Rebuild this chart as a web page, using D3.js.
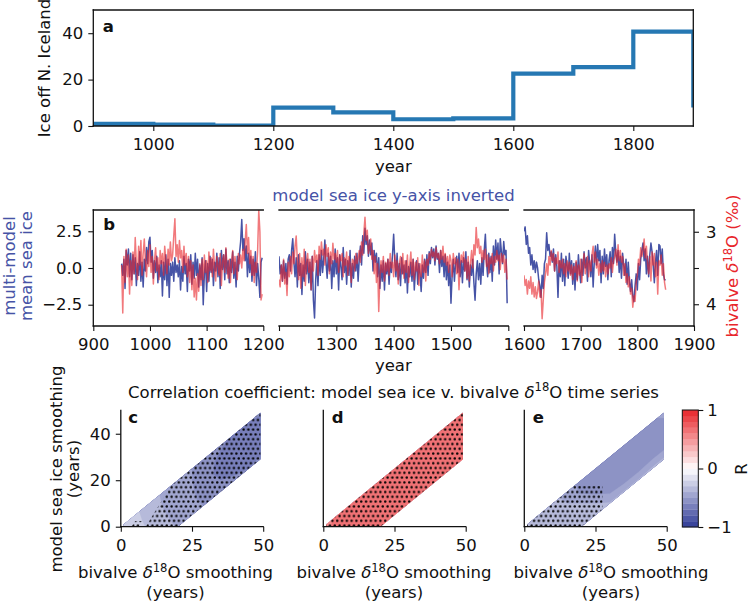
<!DOCTYPE html>
<html><head><meta charset="utf-8">
<script src="https://cdn.jsdelivr.net/npm/d3@7"></script>
<style>
body{margin:0;background:#fff;}
svg{display:block;font-family:"DejaVu Sans",sans-serif;}
</style></head><body>
<svg id="chart" width="750" height="603"></svg>
<script>
// ================= DATA =================
// Panel a: ice off N. Iceland (century bins)
const iceEdges  = [900,1000,1100,1200,1300,1400,1500,1600,1700,1800,1900];
const iceValues = [0.9,0.6,0.2,7.9,5.9,2.9,3.3,22.6,25.4,40.7,8.0];
const aTicksX = [1000,1200,1400,1600,1800];
const aTicksY = [0,20,40];

// Panel b: annual series sampled every 2 years from 950
const seriesStart = 950, seriesStep = 2;
const seaIce = [
0.3,-0.5,0.6,-1.4,1.2, 0.2,1.3,-0.6,1.0,-0.8, 0.9,-0.4,0.7,-1.2,0.3, -0.5,1.1,-0.9,0.4,-1.3, 0.6,-0.2,1.4,0.3,1.8,
2.1,0.4,1.2,-0.7,0.5, -0.3,0.8,-1.0,0.2,-0.6, 0.5,-1.9,0.4,-0.8,0.9, -1.2,0.6,-2.0,0.3,-0.5, 0.4,-0.9,0.7,-0.3,0.2,
-0.6,0.5,-1.5,0.1,-0.9, 0.8,-0.4,0.3,-1.6,0.6, -0.2,0.9,-1.1,0.4,-0.7, 1.0,-0.5,0.6,-1.3,0.2, -0.8,0.7,-2.5,-0.4,0.5,
-1.6,0.3,-0.9,0.8,-0.3, 0.6,-1.2,0.4,-0.2,1.0, -0.6,0.7,-1.4,1.2,-0.1, 0.9,-0.8,1.3,-0.4,0.5, -1.0,0.6,-0.3,1.1,-0.7,
0.4,-1.3,0.8,-0.2,1.0, 1.8,3.3,1.2,2.0,0.5, 1.5,-0.6,1.0,-0.3,0.8, -0.9,0.6,-0.5,1.1,-1.2, 0.3,-0.7,-2.0,0.4,0.7,
0.8,-0.4,0.2,-0.9,0.5, -0.7,0.3,-1.1,0.6,0.9, -0.2,1.2,2.0,0.4,-0.6, 0.7,-1.3,0.9,-0.5,0.3, -1.8,0.2,-0.9,1.1,-0.4,
0.6,-1.0,0.4,-1.5,0.8, -2.2,-3.4,-0.8,0.5,-1.2, 0.9,-0.5,1.2,-0.3,0.6, 1.9,0.4,-0.7,1.0,-0.2, 0.8,-1.4,0.5,-0.6,1.3,
-0.4,0.7,-1.5,0.9,0.1, -0.8,1.4,-0.3,0.6,-1.1, 0.5,-0.5,1.2,-1.3,0.3, -0.7,0.8,-0.2,1.0,-0.9, 0.6,1.5,0.2,2.2,1.0,
2.7,1.6,2.2,0.8,1.9, 0.9,1.7,-0.2,1.2,0.4, 1.0,-0.6,0.7,-1.4,0.2, -0.9,0.5,-1.5,0.3,-0.4, 0.6,-1.1,0.4,-0.3,0.9,
2.3,0.5,-0.6,1.0,-0.8, 0.3,-1.2,0.7,-0.4,0.2, -1.0,0.5,-1.7,0.1,-0.6, 0.4,-0.9,0.6,-1.5,-0.2, 0.5,-1.1,0.3,-0.4,-1.6,
0.2,-0.7,0.6,-0.3,0.9, -0.5,1.1,0.3,1.4,0.7, 1.3,0.2,1.5,0.6,1.0, -0.3,1.2,0.1,0.8,-0.6, 0.9,-0.8,0.4,-1.2,0.2,
-2.4,-0.5,0.6,-0.9,0.3, 0.8,-0.3,1.0,-0.6,0.5, -1.0,0.7,-0.2,1.1,-0.8, 0.4,-1.3,0.2,-0.5,0.6, -1.0,-2.2,-0.4,0.5,-0.8,
0.3,-1.1,0.7,-0.5,1.2, 2.3,0.4,-0.6,1.0,-0.3, 0.8,-0.9,1.5,0.2,1.9, 0.6,1.7,-0.4,2.0,1.1, 0.3,1.8,0.9,1.2,-2.4,
2.5,2.8,1.6,2.2,1.0, 1.4,0.2,0.9,-0.1,0.5, -0.3,0.4,0.0,-0.8,-1.2, -2.0,-0.5,-1.4,0.3,0.6, 2.4,1.2,1.6,0.8,1.1,
0.4,1.3,-0.2,0.9,0.1, -2.0,0.5,-0.6,1.0,-0.9, 0.6,-1.2,0.8,0.2,-0.7, 1.0,-0.4,0.5,-1.1,0.3, -1.5,0.4,-0.8,0.9,-0.2,
-1.0,0.6,-0.5,1.1,0.0, 0.7,-0.9,1.2,0.3,-0.6, 0.9,-1.3,0.4,1.5,0.2, 1.6,0.5,1.2,-1.0,0.8, -0.4,1.3,0.1,0.9,-0.8,
0.5,1.1,-0.6,1.4,0.3, 2.3,1.0,0.4,1.2,-0.3, 0.8,-0.7,1.0,0.2,-0.5, 0.6,-1.1,0.4,-0.9,-1.6, -0.8,-1.9,-2.3,-1.2,-0.4,
-1.5,0.3,-0.8,0.6,1.2, 1.7,0.5,1.3,-0.4,0.8, -0.6,0.9,1.7,1.1,0.2, -1.0,0.4,1.2,-0.5,1.6, 1.5,0.3,1.3,-0.4,-0.8,
-0.8];
const bivalve = [
3.46,4.12,3.34,3.70,3.24, 3.62,3.32,3.86,3.40,3.74, 3.28,3.58,3.08,3.44,3.66, 3.20,3.46,3.12,3.60,3.30, 3.10,3.42,3.62,3.26,3.48,
3.18,3.56,3.34,3.72,3.40, 3.22,3.54,3.36,3.66,3.26, 3.44,3.30,3.60,3.20,3.38, 3.58,3.24,3.46,3.14,3.40, 3.32,3.06,2.82,3.34,3.18,
3.42,3.12,3.36,3.26,3.56, 3.20,3.46,3.30,3.62,3.34, 3.70,3.40,3.80,3.46,3.90, 3.64,3.94,3.58,3.82,3.44, 3.74,3.38,3.66,3.32,3.56,
3.40,3.70,3.28,3.54,3.36, 3.62,3.24,3.50,3.68,3.34, 3.46,3.60,3.30,3.74,3.42, 3.32,3.56,3.22,3.48,3.64, 3.38,3.70,3.40,3.26,3.58,
3.34,3.48,3.66,3.30,3.44, 3.32,3.50,3.24,3.40,3.14, 2.90,3.30,3.08,3.44,3.26, 3.60,3.34,3.70,3.42,3.56, 3.26,2.70,3.00,3.94,3.86,
3.66,3.76,3.46,3.68,3.38, 3.72,3.56,3.88,3.42,3.62, 3.34,3.58,3.28,3.44,3.20, 3.06,3.40,3.66,3.30,3.78, 3.36,3.62,3.24,3.74,3.42,
3.30,3.56,3.38,3.80,3.34, 3.54,3.26,3.42,3.32,3.60, 3.20,3.38,3.14,3.32,3.24, 3.46,3.18,3.34,3.22,3.58, 3.28,3.44,3.16,3.38,3.30,
3.42,3.26,3.56,3.32,3.40, 3.30,3.62,3.36,3.46,3.28, 3.60,3.34,3.44,3.70,3.38, 3.40,3.54,3.30,3.44,3.36, 3.26,3.42,3.14,3.32,3.02,
2.80,3.12,2.98,3.30,3.20, 3.10,3.38,3.26,3.58,3.34, 3.70,3.44,4.10,3.62,3.40, 3.56,3.34,3.68,3.42,3.54, 3.38,3.60,3.30,3.50,3.42,
3.62,3.32,3.54,3.40,3.72, 3.44,3.34,3.58,3.30,3.64, 3.40,3.56,3.32,3.70,3.46, 3.28,3.60,3.38,3.66,3.42, 3.54,3.36,3.74,3.44,3.62,
3.32,3.56,3.40,3.68,3.38, 3.46,3.30,3.38,3.24,3.34, 3.28,3.40,3.22,3.36,3.30, 3.44,3.26,3.38,3.20,3.42, 3.30,3.46,3.34,3.56,3.32,
3.40,3.62,3.30,3.44,3.36, 3.58,3.38,3.80,3.46,3.32, 3.42,3.28,3.54,3.38,3.64, 3.34,3.68,3.44,3.26,3.50, 3.18,3.32,2.94,3.22,3.10,
3.30,3.20,3.42,3.26,3.38, 3.24,3.48,3.32,3.58,3.36, 3.44,3.30,3.54,3.34,3.42, 3.26,3.40,3.32,3.52,3.30, 3.42,3.32,3.56,3.38,3.66,
3.60,3.74,3.66,3.86,3.68, 3.78,3.62,3.86,3.70,3.90, 3.76,3.92,3.82,3.68,3.90, 3.80,4.20,3.94,3.70,3.58, 3.44,3.60,3.34,3.46,3.26,
3.40,3.30,3.54,3.36,3.44, 3.28,3.56,3.40,3.50,3.38, 3.58,3.44,3.62,3.40,3.54, 3.42,3.60,3.46,3.66,3.48, 3.56,3.40,3.68,3.46,3.60,
3.38,3.70,3.44,3.30,3.58, 3.46,3.34,3.62,3.40,3.54, 3.32,3.20,3.42,3.28,3.50, 3.38,3.60,3.44,3.56,3.40, 3.54,3.42,3.62,3.46,3.58,
3.44,3.50,3.36,3.56,3.40, 3.34,3.24,3.46,3.18,3.40, 3.26,3.42,3.34,3.60,3.44, 3.70,3.58,3.76,3.62,3.86, 3.78,4.04,3.88,3.96,3.70,
3.60,3.38,3.46,3.22,3.34, 3.26,3.10,3.36,3.20,3.44, 3.58,3.34,3.68,3.28,3.46, 3.30,3.62,3.42,3.86,3.40, 3.46,3.32,3.60,3.44,3.70,
3.80];
const segments = [[900,1200],[1200,1600],[1600,1900]];
const segTicks = [[900,1000,1100,1200],[1200,1300,1400,1500,1600],[1600,1700,1800,1900]];
const segLabels = [[900,1000,1100,1200],[1300,1400,1500],[1600,1700,1800,1900]];
const bTicksLeft = [-2.5,0,2.5];
const bTicksRight = [3,3.5,4];
const bLabelsRight = [3,4];

// Panels c-e: correlation on grid (bivalve smoothing u, lag = bivalve - model smoothing)
const uGrid = [0,5,10,15,20,25,30,35,40,45,50];
const lagGrid = [0,5,10,15,20];
const bandX = [1,20,49,49,1];
const bandY = [0,0,29,49,1];
const corrC = [
-0.22,-0.28,-0.35,-0.42,-0.46,-0.50,-0.54,-0.58,-0.62,-0.60,-0.58,
-0.22,-0.27,-0.33,-0.41,-0.46,-0.50,-0.56,-0.63,-0.68,-0.68,-0.66,
-0.22,-0.26,-0.31,-0.39,-0.45,-0.49,-0.56,-0.64,-0.68,-0.69,-0.67,
-0.22,-0.25,-0.29,-0.36,-0.44,-0.48,-0.54,-0.60,-0.63,-0.64,-0.62,
-0.22,-0.24,-0.27,-0.33,-0.41,-0.46,-0.51,-0.56,-0.58,-0.60,-0.59];
const sigC = [
0,0,0,0,1,1,1,1,1,1,1,
0,1,0,1,1,1,1,1,1,1,1,
0,0,1,1,1,1,1,1,1,1,1,
0,0,0,1,1,1,1,1,1,1,1,
0,0,0,0,1,1,1,1,1,1,1];
const corrD = [
0.56,0.62,0.65,0.66,0.66,0.66,0.65,0.65,0.64,0.64,0.64,
0.58,0.62,0.65,0.66,0.66,0.66,0.66,0.65,0.65,0.64,0.64,
0.58,0.62,0.64,0.65,0.66,0.66,0.66,0.65,0.65,0.65,0.64,
0.58,0.61,0.63,0.65,0.65,0.66,0.66,0.66,0.65,0.65,0.65,
0.58,0.60,0.62,0.64,0.65,0.65,0.66,0.66,0.65,0.65,0.65];
const sigD = [
1,1,1,1,1,1,1,1,1,1,1,
1,1,1,1,1,1,1,1,1,1,1,
1,1,1,1,1,1,1,1,1,1,1,
1,1,1,1,1,1,1,1,1,1,1,
1,1,1,1,1,1,1,1,1,1,1];
const corrE = [
-0.36,-0.37,-0.38,-0.42,-0.55,-0.57,-0.58,-0.58,-0.57,-0.56,-0.40,
-0.36,-0.37,-0.38,-0.40,-0.52,-0.56,-0.58,-0.58,-0.58,-0.57,-0.55,
-0.36,-0.37,-0.38,-0.39,-0.40,-0.53,-0.56,-0.57,-0.57,-0.56,-0.55,
-0.36,-0.36,-0.37,-0.38,-0.39,-0.40,-0.52,-0.55,-0.55,-0.53,-0.53,
-0.35,-0.36,-0.36,-0.37,-0.38,-0.38,-0.39,-0.39,-0.39,-0.38,-0.38];
const sigE = [
1,1,1,1,0,0,0,0,0,0,0,
1,1,1,1,1,0,0,0,0,0,0,
1,1,1,1,1,1,0,0,0,0,0,
1,1,1,1,1,1,0,0,0,0,0,
1,1,1,1,1,1,0,0,0,0,0];
const levels = [-1,-0.9,-0.8,-0.7,-0.6,-0.5,-0.4,-0.3,-0.2,-0.1,0,0.1,0.2,0.3,0.4,0.5,0.6,0.7,0.8,0.9,1];
const cTicksX = [0,25,50];
const cTicksY = [0,20,40];
const cbTicks = [-1,0,1];

// ================= DRAWING =================
const svg = d3.select("#chart");
const FS = 16.5;
const INK = "#111";
const BLUE = "#4653a6";
const RED = "#e8262b";
const defs = svg.append("defs");

function styleAxis(g){
  g.select(".domain").remove();
  g.selectAll("text").attr("font-size",FS).attr("font-family","DejaVu Sans").attr("fill",INK);
  g.selectAll("line").attr("stroke",INK).attr("stroke-width",1.1);
}
function spine(x1,y1,x2,y2){
  svg.append("line").attr("x1",x1).attr("y1",y1).attr("x2",x2).attr("y2",y2)
    .attr("stroke",INK).attr("stroke-width",1.3).attr("stroke-linecap","square");
}
function text(x,y,str,opts={}){
  const t = svg.append("text").attr("x",x).attr("y",y).attr("font-size",opts.fs||FS)
    .attr("fill",opts.fill||INK).attr("text-anchor",opts.anchor||"middle");
  if(opts.weight) t.attr("font-weight",opts.weight);
  if(opts.rotate) t.attr("transform",`rotate(${opts.rotate},${x},${y})`);
  t.text(str);
  return t;
}
function d18Text(t, prefix, suffix){
  t.text(null);
  t.append("tspan").text(prefix);
  t.append("tspan").attr("font-style","italic").text("δ");
  t.append("tspan").attr("font-size","70%").attr("dy",-6.5).text("18");
  t.append("tspan").attr("dy",6.5).text("O");
  t.append("tspan").text(suffix);
}

// ---------- Panel a ----------
const ax = d3.scaleLinear().domain([900,1900]).range([93.3,693.3]);
const ay = d3.scaleLinear().domain([0,50]).range([126,10]);
defs.append("clipPath").attr("id","clipA").append("rect")
  .attr("x",ax.range()[0]).attr("y",ay.range()[1]).attr("width",ax.range()[1]-ax.range()[0]).attr("height",ay.range()[0]-ay.range()[1]);
const aLine = d3.line().x(d=>ax(d[0])).y(d=>ay(d[1])).curve(d3.curveStepAfter);
svg.append("path").datum(iceEdges.map((e,i)=>[e,iceValues[i]]))
  .attr("d",aLine).attr("fill","none").attr("stroke","#2678b3").attr("stroke-width",4.2)
  .attr("clip-path","url(#clipA)");
styleAxis(svg.append("g").attr("transform","translate(0,126)")
  .call(d3.axisBottom(ax).tickValues(aTicksX).tickFormat(d3.format("d")).tickSize(5).tickPadding(7.5)));
styleAxis(svg.append("g").attr("transform","translate(93.3,0)")
  .call(d3.axisLeft(ay).tickValues(aTicksY).tickSize(5).tickPadding(5)));
spine(93.3,10,693.3,10); spine(93.3,126,693.3,126); spine(93.3,10,93.3,126); spine(693.3,10,693.3,126);
text(102.7,31.7,"a",{anchor:"start",weight:"bold"});
text(393.3,171.5,"year");
text(50,68,"Ice off N. Iceland",{rotate:-90});

// ---------- Panel b ----------
const segPx = [[93.3,263.3],[279,508.3],[524,694]];
const bTop = 210, bBot = 326;
const byL = d3.scaleLinear().domain([-3.95,3.95]).range([bBot,bTop]);
const byR = d3.scaleLinear().domain([2.7,4.3]).range([bTop,bBot]);
const years = seaIce.map((_,i)=>seriesStart+i*seriesStep);
segments.forEach((seg,k)=>{
  const xs = d3.scaleLinear().domain(seg).range(segPx[k]);
  const cid = "clipB"+k;
  defs.append("clipPath").attr("id",cid).append("rect")
    .attr("x",segPx[k][0]).attr("y",bTop).attr("width",segPx[k][1]-segPx[k][0]).attr("height",bBot-bTop);
  const idx = years.map((y,i)=>i).filter(i=> years[i]>=seg[0] && (k===segments.length-1 ? years[i]<=seg[1] : years[i]<seg[1]));
  const g = svg.append("g").attr("clip-path",`url(#${cid})`);
  g.append("path").datum(idx).attr("fill","none").attr("stroke",BLUE).attr("stroke-width",1.5)
    .attr("stroke-linejoin","round")
    .attr("d",d3.line().x(i=>xs(years[i])).y(i=>byL(seaIce[i])));
  g.append("path").datum(idx).attr("fill","none").attr("stroke",RED).attr("stroke-width",1.5)
    .attr("stroke-opacity",0.62).attr("stroke-linejoin","round")
    .attr("d",d3.line().x(i=>xs(years[i])).y(i=>byR(bivalve[i])));
  const axG = svg.append("g").attr("transform",`translate(0,${bBot})`)
    .call(d3.axisBottom(xs).tickValues(segTicks[k]).tickSize(5).tickPadding(7)
      .tickFormat(v=> segLabels[k].includes(v) ? d3.format("d")(v) : ""));
  styleAxis(axG);
  spine(segPx[k][0],bTop,segPx[k][1],bTop);
  spine(segPx[k][0],bBot,segPx[k][1],bBot);
});
spine(segPx[0][0],bTop,segPx[0][0],bBot);
spine(segPx[2][1],bTop,segPx[2][1],bBot);
styleAxis(svg.append("g").attr("transform",`translate(${segPx[0][0]},0)`)
  .call(d3.axisLeft(byL).tickValues(bTicksLeft).tickFormat(d3.format(".1f")).tickSize(5).tickPadding(6)));
styleAxis(svg.append("g").attr("transform",`translate(${segPx[2][1]},0)`)
  .call(d3.axisRight(byR).tickValues(bTicksRight).tickSize(5).tickPadding(7)
    .tickFormat(v=> bLabelsRight.includes(v) ? d3.format("d")(v) : "")));
text(103.3,230,"b",{anchor:"start",weight:"bold"});
text(393.5,200.5,"model sea ice y-axis inverted",{fill:BLUE});
text(393.3,371,"year");
text(15,266,"multi-model",{rotate:-90,fill:BLUE});
text(32,266,"mean sea ice",{rotate:-90,fill:BLUE});
d18Text(text(738,266,"",{rotate:-90,fill:RED}),"bivalve ","\u00a0(\u2030)");

// ---------- Panels c-e ----------
const cy = d3.scaleLinear().domain([0,50]).range([526.7,410.5]);
const cbColor = d3.scaleLinear().domain([-1,0,1]).range(["#2f3a96","#ffffff",RED]);
const bandColor = t => cbColor(t + (levels[1]-levels[0])/2);

const pat = defs.append("pattern").attr("id","dots").attr("patternUnits","userSpaceOnUse")
  .attr("width",4.8).attr("height",9.6);
pat.append("circle").attr("cx",1.2).attr("cy",2.4).attr("r",1.2).attr("fill","#000");
pat.append("circle").attr("cx",3.6).attr("cy",7.2).attr("r",1.2).attr("fill","#000");

function contourPanel(x0, corr, sig, letter, showY, labelX){
  const xs = d3.scaleLinear().domain([0,50]).range([x0,x0+142.4]);
  const du = uGrid[1]-uGrid[0], dw = lagGrid[1]-lagGrid[0];
  const proj = d3.geoTransform({point(px,py){
    const u = uGrid[0]+(px-0.5)*du, w = lagGrid[0]+(py-0.5)*dw;
    this.stream.point(xs(u), cy(u-w));
  }});
  const path = d3.geoPath(proj);
  const cid = "clip"+letter;
  defs.append("clipPath").attr("id",cid).append("polygon")
    .attr("points", bandX.map((x,i)=>[xs(x),cy(bandY[i])].join(",")).join(" "));
  const g = svg.append("g").attr("clip-path",`url(#${cid})`);
  const cont = d3.contours().size([uGrid.length,lagGrid.length]).thresholds(levels.slice(0,-1));
  cont(corr).forEach(c=>{
    if(c.coordinates.length) g.append("path").attr("d",path(c)).attr("fill",bandColor(c.value)).attr("stroke",bandColor(c.value)).attr("stroke-width",0.3);
  });
  const sc = d3.contours().size([uGrid.length,lagGrid.length]).thresholds([0.5])(sig);
  g.append("path").attr("d",path(sc[0])).attr("fill","url(#dots)");
  styleAxis(svg.append("g").attr("transform","translate(0,526.7)")
    .call(d3.axisBottom(xs).tickValues(cTicksX).tickSize(5).tickPadding(8)));
  if(showY){
    styleAxis(svg.append("g").attr("transform",`translate(${x0},0)`)
      .call(d3.axisLeft(cy).tickValues(cTicksY).tickSize(5).tickPadding(5)));
  }
  spine(x0,410.5,x0,526.7); spine(x0,526.7,x0+142.4,526.7);
  text(x0+ (letter==="c"?7.5:8.5),423.3,letter,{anchor:"start",weight:"bold"});
  d18Text(text(labelX,578,"",{}),"bivalve "," smoothing");
  text(labelX,598,"(years)");
}
contourPanel(120.8, corrC, sigC, "c", true, 175.5);
contourPanel(323.3, corrD, sigD, "d", false, 394);
contourPanel(524.3, corrE, sigE, "e", false, 611);

// title & y label
d18Text(text(393.5,397.5,""),"Correlation coefficient: model sea ice v. bivalve "," time series");
text(62,469,"model sea ice smoothing",{rotate:-90});
text(78.5,469,"(years)",{rotate:-90});

// ---------- Colorbar ----------
const cbx0 = 682.3, cbw = 16;
const cbS = d3.scaleLinear().domain([-1,1]).range([527,410]);
levels.slice(0,-1).forEach((t,i)=>{
  svg.append("rect").attr("x",cbx0).attr("y",cbS(levels[i+1])).attr("width",cbw)
    .attr("height",cbS(t)-cbS(levels[i+1])+0.3).attr("fill",bandColor(t));
});
svg.append("rect").attr("x",cbx0).attr("y",410).attr("width",cbw).attr("height",117)
  .attr("fill","none").attr("stroke",INK).attr("stroke-width",1);
styleAxis(svg.append("g").attr("transform",`translate(${cbx0+cbw},0)`)
  .call(d3.axisRight(cbS).tickValues(cbTicks).tickFormat(d3.format("d")).tickSize(5).tickPadding(4)));
text(747,469,"R",{rotate:-90});
</script>
</body></html>
